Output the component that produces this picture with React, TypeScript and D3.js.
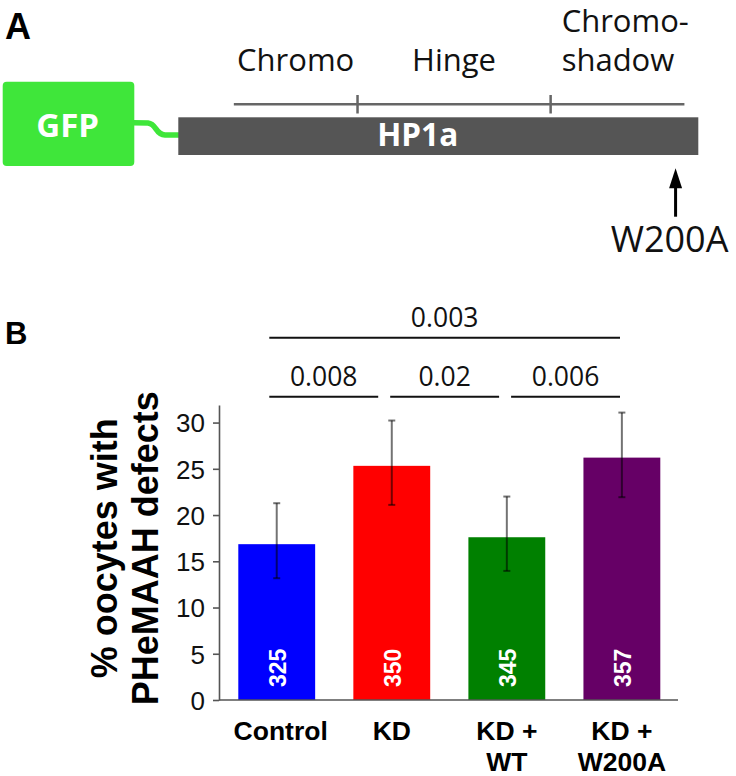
import React, { useEffect, useRef } from 'react';
import * as d3 from 'd3';

// panel B data
const groups = ['Control', 'KD', 'KD + WT', 'KD + W200A'];
const groupLabelLines = [['Control'], ['KD'], ['KD +', 'WT'], ['KD +', 'W200A']];
const defectPct = [16.85, 25.32, 17.6, 26.21];
const ciLow = [13.17, 21.1, 13.96, 21.93];
const ciHigh = [21.28, 30.22, 22.0, 31.08];
const oocyteCounts = [325, 350, 345, 357];
const barColors = ['#0000ff', '#ff0000', '#008000', '#660066'];
const yTicks = [0, 5, 10, 15, 20, 25, 30];

// pairwise comparisons (index into groups)
const pairA = [0, 1, 2, 0];
const pairB = [1, 2, 3, 3];
const pValues = ['0.008', '0.02', '0.006', '0.003'];
const pLevel = [0, 0, 0, 1];

// panel A schematic (residue units)
const proteinLength = 206;
const domainNames = [['Chromo'], ['Hinge'], ['Chromo-', 'shadow']];
const domainBounds = [22, 71, 147.5, 200.5];
const mutationPos = 197;
const mutationLabel = 'W200A';

const SANS = '"Liberation Sans", Arial, sans-serif';
const OPEN = '"Open Sans", "Noto Sans", sans-serif';

const App = () => {
  const ref = useRef<SVGSVGElement | null>(null);

  useEffect(() => {
    const svg = d3.select(ref.current);
    svg.selectAll('*').remove();

    // ---------- Panel A ----------
    const a = svg.append('g');
    a.append('text').attr('x', 5).attr('y', 39).text('A')
      .attr('font-family', SANS).attr('font-weight', 'bold').attr('font-size', 36);

    const prot = d3.scaleLinear().domain([0, proteinLength]).range([178.3, 698.3]);

    // GFP box + linker
    a.append('rect').attr('x', 2.7).attr('y', 81.7).attr('width', 131.6).attr('height', 84.3)
      .attr('rx', 4).attr('fill', '#3fe63a');
    a.append('text').attr('x', 67.7).attr('y', 137.3).attr('text-anchor', 'middle')
      .attr('font-family', OPEN).attr('font-weight', 'bold').attr('font-size', 33)
      .attr('fill', '#fff').text('GFP');
    a.append('path')
      .attr('d', `M133,122.7 L148,123 C157,124 155,134.5 165,135 L${prot(0) + 1},135`)
      .attr('fill', 'none').attr('stroke', '#3fe63a').attr('stroke-width', 5.5);

    // HP1a bar
    a.append('rect').attr('x', prot(0)).attr('y', 117.3)
      .attr('width', prot(proteinLength) - prot(0)).attr('height', 37.7).attr('fill', '#555555');
    a.append('text').attr('x', 417.7).attr('y', 145.7).attr('text-anchor', 'middle')
      .attr('font-family', OPEN).attr('font-weight', 'bold').attr('font-size', 31.5)
      .attr('fill', '#fff').text('HP1a');

    // domain line
    a.append('line').attr('x1', prot(domainBounds[0])).attr('x2', prot(domainBounds[domainBounds.length - 1]))
      .attr('y1', 104.3).attr('y2', 104.3).attr('stroke', '#666').attr('stroke-width', 2.5);
    domainBounds.slice(1, -1).forEach((b) => {
      a.append('line').attr('x1', prot(b)).attr('x2', prot(b)).attr('y1', 95).attr('y2', 113.5)
        .attr('stroke', '#666').attr('stroke-width', 2.5);
    });
    domainNames.forEach((lines, i) => {
      const x0 = prot(domainBounds[i]);
      const x1 = prot(domainBounds[i + 1]);
      const multi = lines.length > 1;
      lines.forEach((t, j) => {
        a.append('text')
          .attr('x', multi ? x0 + 11 : (x0 + x1) / 2)
          .attr('y', 71 - (lines.length - 1 - j) * 39.3)
          .attr('text-anchor', multi ? 'start' : 'middle')
          .attr('font-family', OPEN).attr('font-size', 31).attr('fill', '#111')
          .text(t);
      });
    });

    // mutation arrow
    const mx = prot(mutationPos);
    a.append('line').attr('x1', mx).attr('x2', mx).attr('y1', 184).attr('y2', 216.7)
      .attr('stroke', '#000').attr('stroke-width', 3);
    a.append('path').attr('d', `M${mx},168.3 L${mx - 6.5},188.3 L${mx + 6.5},188.3 Z`).attr('fill', '#000');
    a.append('text').attr('x', mx - 6).attr('y', 251.7).attr('text-anchor', 'middle')
      .attr('font-family', OPEN).attr('font-size', 36).attr('fill', '#111').text(mutationLabel);

    // ---------- Panel B ----------
    const b = svg.append('g');
    b.append('text').attr('x', 5).attr('y', 344).text('B')
      .attr('font-family', SANS).attr('font-weight', 'bold').attr('font-size', 31);

    const x = d3.scaleBand().domain(groups).range([238.3, 660.3]).paddingInner(0.332).paddingOuter(0);
    const y = d3.scaleLinear().domain([0, 31.9]).range([700, 405]);
    const cx = (i: number) => (x(groups[i]) as number) + x.bandwidth() / 2;

    // bars
    b.selectAll('rect.bar').data(groups).enter().append('rect')
      .attr('class', 'bar')
      .attr('x', (d) => x(d) as number)
      .attr('y', (_, i) => y(defectPct[i]))
      .attr('width', x.bandwidth())
      .attr('height', (_, i) => y(0) - y(defectPct[i]))
      .attr('fill', (_, i) => barColors[i]);

    // n counts inside bars
    b.selectAll('text.n').data(oocyteCounts).enter().append('text')
      .attr('class', 'n')
      .attr('transform', (_, i) => `translate(${cx(i) + 9},687) rotate(-90)`)
      .attr('font-family', SANS).attr('font-weight', 'bold').attr('font-size', 23)
      .attr('fill', '#fff').text((d) => d);

    // error bars
    const eb = b.append('g').attr('stroke', '#000').attr('stroke-opacity', 0.55).attr('stroke-width', 2);
    groups.forEach((_, i) => {
      const c = cx(i);
      eb.append('line').attr('x1', c).attr('x2', c).attr('y1', y(ciHigh[i])).attr('y2', y(ciLow[i]));
      eb.append('line').attr('x1', c - 3.5).attr('x2', c + 3.5).attr('y1', y(ciHigh[i])).attr('y2', y(ciHigh[i]));
      eb.append('line').attr('x1', c - 3.5).attr('x2', c + 3.5).attr('y1', y(ciLow[i])).attr('y2', y(ciLow[i]));
    });

    // y axis
    const yAxis = b.append('g').attr('transform', 'translate(219,0)')
      .call(d3.axisLeft(y).tickValues(yTicks).tickSize(6).tickSizeOuter(0).tickPadding(8));
    yAxis.select('.domain').attr('stroke', '#555').attr('stroke-width', 1.6);
    yAxis.selectAll('.tick line').attr('stroke', '#555').attr('stroke-width', 1.6);
    yAxis.selectAll('.tick text').attr('font-family', SANS).attr('font-size', 26).attr('fill', '#111')
      .attr('dy', '0.36em');

    // x axis line
    b.append('line').attr('x1', 219).attr('x2', 678).attr('y1', y(0)).attr('y2', y(0))
      .attr('stroke', '#555').attr('stroke-width', 1.6);

    // x labels
    groupLabelLines.forEach((lines, i) => {
      lines.forEach((t, j) => {
        b.append('text').attr('x', cx(i) + (i === 0 ? 4 : 0)).attr('y', 740 + j * 30.5)
          .attr('text-anchor', 'middle').attr('font-family', SANS).attr('font-weight', 'bold')
          .attr('font-size', 26.5).attr('fill', '#000').text(t);
      });
    });

    // y title
    const yTitle = ['% oocytes with', 'PHeMAAH defects'];
    const titleX = [116.7, 158.3];
    yTitle.forEach((t, i) => {
      b.append('text').attr('transform', `translate(${titleX[i]},548.3) rotate(-90)`)
        .attr('text-anchor', 'middle').attr('font-family', SANS).attr('font-weight', 'bold')
        .attr('font-size', 36).attr('fill', '#000').text(t);
    });

    // significance brackets
    const br = d3.scaleLinear().domain([0, groups.length - 1]).range([269.3, 632]);
    const levelLineY = [396.7, 337.7];
    pValues.forEach((p, k) => {
      const x1 = br(pairA[k]);
      const x2 = br(pairB[k]) - 12;
      const ly = levelLineY[pLevel[k]];
      b.append('line').attr('x1', x1).attr('x2', x2).attr('y1', ly).attr('y2', ly)
        .attr('stroke', '#111').attr('stroke-width', 2);
      b.append('text').attr('x', (x1 + x2) / 2).attr('y', ly - 10.5).attr('text-anchor', 'middle')
        .attr('font-family', OPEN).attr('font-size', 26.5).attr('fill', '#111').text(p);
    });
  }, []);

  return (
    <svg ref={ref} width={736} height={776}
      style={{ position: 'absolute', left: 0, top: 0, background: '#fff' }} />
  );
};

export default App;
